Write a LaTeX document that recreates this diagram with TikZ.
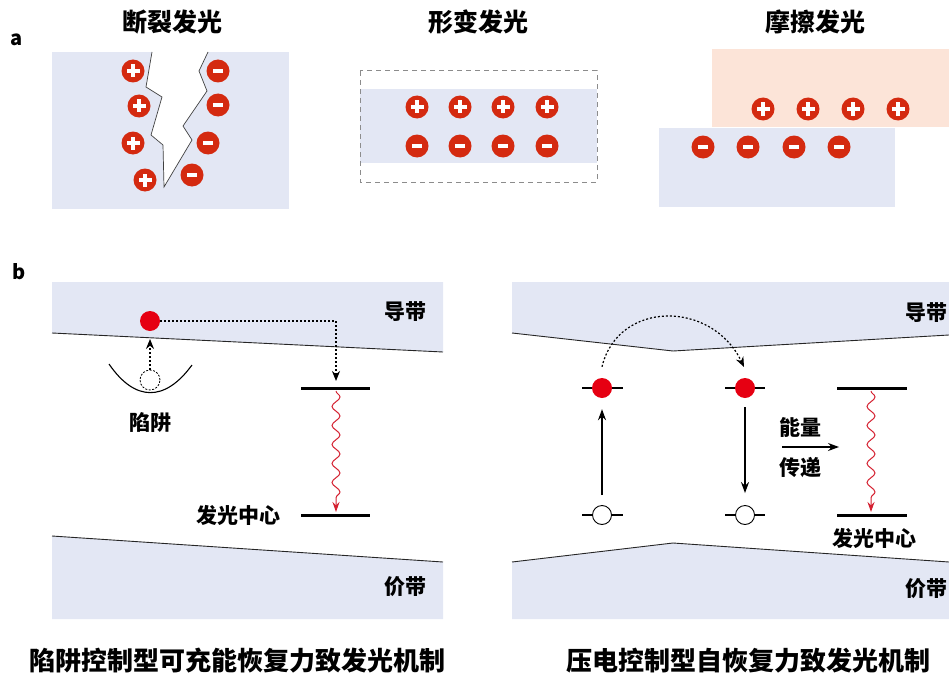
\documentclass[tikz,border=0pt]{standalone}
\usepackage{fontspec}
\setmainfont{Noto Sans CJK SC}
\usetikzlibrary{arrows.meta,decorations.pathmorphing,calc}
\definecolor{bandc}{HTML}{E3E7F4}
\definecolor{pinkc}{HTML}{FCE4D8}
\definecolor{chg}{HTML}{D42A10}
\definecolor{elec}{HTML}{E60012}
\definecolor{wavec}{HTML}{D42030}
\begin{document}
\begin{tikzpicture}[x=1pt,y=-1pt,
  titletxt/.style={font=\bfseries\fontsize{25}{25}\selectfont, inner sep=0pt},
  captxt/.style={font=\bfseries\fontsize{26}{26}\selectfont, inner sep=0pt},
  bandlbl/.style={font=\bfseries\fontsize{21}{21}\selectfont, inner sep=0pt},
  paneltxt/.style={font=\bfseries\fontsize{20}{20}\selectfont, inner sep=0pt},
  poschg/.style={circle, fill=chg, minimum size=23pt, inner sep=0pt,
    path picture={
      \fill[white] ($(path picture bounding box.center)+(-6.5pt,-1.6pt)$) rectangle ++(13pt,3.2pt);
      \fill[white] ($(path picture bounding box.center)+(-1.6pt,-6.5pt)$) rectangle ++(3.2pt,13pt);}},
  negchg/.style={circle, fill=chg, minimum size=23pt, inner sep=0pt,
    path picture={
      \fill[white] ($(path picture bounding box.center)+(-5pt,-2pt)$) rectangle ++(10pt,4pt);}},
  elecdot/.style={circle, fill=elec, minimum size=20pt, inner sep=0pt},
  holedot/.style={circle, draw=black, fill=white, line width=0.9pt, minimum size=19pt, inner sep=0pt},
  trapdot/.style={circle, draw=black, dash pattern=on 2pt off 1.5pt, line width=0.8pt, minimum size=20pt, inner sep=0pt},
  bandedge/.style={draw=black!85, line width=0.9pt},
  lvline/.style={line width=3pt},
  shortlv/.style={line width=2.5pt},
  dotarrow/.style={line width=1.2pt, dash pattern=on 2pt off 2pt, -{Stealth[length=10pt,width=8pt]}},
  solidarrow/.style={line width=1.3pt, -{Stealth[length=11pt,width=8pt]}},
  wavearrow/.style={draw=wavec, line width=1pt, decorate,
    decoration={snake, amplitude=4pt, segment length=19pt, post length=8pt},
    -{Stealth[length=10pt,width=7pt]}},
]
\useasboundingbox (0,0) rectangle (949,674);

% ---------------- panel a ----------------
\node[paneltxt] (la) at (17,40) {a};
\node[titletxt] (t1) at (172,22) {断裂发光};
\node[titletxt] (t2) at (478,22) {形变发光};
\node[titletxt] (t3) at (815,22) {摩擦发光};

% box 1 with crack
\fill[bandc] (52,52) rectangle (289,209);
\fill[white] (152,52) -- (146,87) -- (162,97) -- (151,135) -- (163,145) -- (164,187)
  -- (192,140) -- (183,126) -- (207,91) -- (199,71) -- (208,52) -- cycle;
\draw[black!75, line width=0.7pt] (152,52) -- (146,87) -- (162,97) -- (151,135) -- (163,145) -- (164,187)
  -- (192,140) -- (183,126) -- (207,91) -- (199,71) -- (208,52);
\node[poschg] (a1p1) at (133,71) {};
\node[poschg] (a1p2) at (139,106) {};
\node[poschg] (a1p3) at (133,143) {};
\node[poschg] (a1p4) at (145,180) {};
\node[negchg] (a1n1) at (218,71) {};
\node[negchg] (a1n2) at (218,105) {};
\node[negchg] (a1n3) at (208,143) {};
\node[negchg] (a1n4) at (192,175) {};

% box 2
\fill[bandc] (360,89) rectangle (597,163);
\draw[black!45, line width=1pt, dash pattern=on 5pt off 4pt] (360,71) rectangle (597,182);
\foreach \i/\x in {1/417,2/460,3/503,4/547}{
  \node[poschg] (a2p\i) at (\x,107) {};
  \node[negchg] (a2n\i) at (\x,146) {};
}

% box 3
\fill[pinkc] (712,49) rectangle (949,127);
\fill[bandc] (659,128) rectangle (895,207);
\foreach \i/\x in {1/763,2/808,3/853,4/898}{
  \node[poschg] (a3p\i) at (\x,109) {};
}
\foreach \i/\x in {1/703,2/748,3/794,4/839}{
  \node[negchg] (a3n\i) at (\x,147) {};
}

% ---------------- panel b ----------------
\node[paneltxt] (lb) at (19,272) {b};

% left bands
\fill[bandc] (52,282) -- (443,282) -- (443,352) -- (52,333) -- cycle;
\draw[bandedge] (52,333) -- (443,352);
\fill[bandc] (52,536) -- (443,562) -- (443,619) -- (52,619) -- cycle;
\draw[bandedge] (52,536) -- (443,562);
\node[bandlbl] (cb1) at (405,312) {导带};
\node[bandlbl] (vb1) at (405,587) {价带};

% trap
\draw[line width=1.1pt] (109,364) .. controls (135,402) and (165,402) .. (192,365);
\node[trapdot] (tr) at (150,380) {};
\coordinate (trtop) at (150,339);
\draw[dotarrow] (tr.north) -- (trtop);
\node[bandlbl] (trl) at (150,422) {陷阱};

% electron and transfer
\node[elecdot] (e1) at (150,321) {};
\coordinate (L1a) at (301,388);
\coordinate (L1b) at (370,388);
\coordinate (L2a) at (301,515);
\coordinate (L2b) at (370,515);
\draw[lvline] (L1a) -- (L1b);
\draw[lvline] (L2a) -- (L2b);
\coordinate (tip1) at (336,381);
\draw[dotarrow] (e1.east) -| (tip1);
\draw[wavearrow] (336,391) -- (336,512);
\node[bandlbl, anchor=east] (lc1) at (281,515) {发光中心};

\node[captxt] (cap1) at (237,661) {陷阱控制型可充能恢复力致发光机制};

% right bands
\fill[bandc] (512,282) -- (949,282) -- (949,335) -- (673,351) -- (512,333) -- cycle;
\draw[bandedge] (512,333) -- (673,351) -- (949,335);
\fill[bandc] (512,562) -- (673,543) -- (949,562) -- (949,619) -- (512,619) -- cycle;
\draw[bandedge] (512,562) -- (673,543) -- (949,562);
\node[bandlbl] (cb2) at (926,313) {导带};
\node[bandlbl] (vb2) at (926,589) {价带};

% levels with dots
\draw[shortlv] (582,388) -- (623,388);
\draw[shortlv] (582,515) -- (623,515);
\draw[shortlv] (725,388) -- (765,388);
\draw[shortlv] (725,515) -- (765,515);
\node[elecdot] (e2) at (602,388) {};
\node[holedot] (h2) at (602,515) {};
\node[elecdot] (e3) at (745,388) {};
\node[holedot] (h3) at (745,515) {};
\draw[solidarrow] ($(h2.north)+(0,-10)$) -- ($(e2.south)+(0,11)$);
\draw[solidarrow] ($(e3.south)+(0,9)$) -- ($(h3.north)+(0,-12)$);
\coordinate (arcEnd) at (744,367);
\draw[dotarrow] ($(e2.north)+(0,-11)$) .. controls (618,300) and (712,300) .. (arcEnd);

% energy transfer
\node[bandlbl] (en1) at (800,427) {能量};
\node[bandlbl] (en2) at (800,467) {传递};
\coordinate (etA) at (782,447);
\coordinate (etB) at (839,447);
\draw[line width=1.1pt, -{Stealth[length=11pt,width=8pt]}] (etA) -- (etB);

\coordinate (R1a) at (837,388);
\coordinate (R1b) at (907,388);
\coordinate (R2a) at (837,515);
\coordinate (R2b) at (907,515);
\draw[lvline] (R1a) -- (R1b);
\draw[lvline] (R2a) -- (R2b);
\draw[wavearrow] (871,391) -- (871,512);
\node[bandlbl] (lc2) at (874,538) {发光中心};

\node[captxt] (cap2) at (748,661) {压电控制型自恢复力致发光机制};
\end{tikzpicture}
\end{document}
